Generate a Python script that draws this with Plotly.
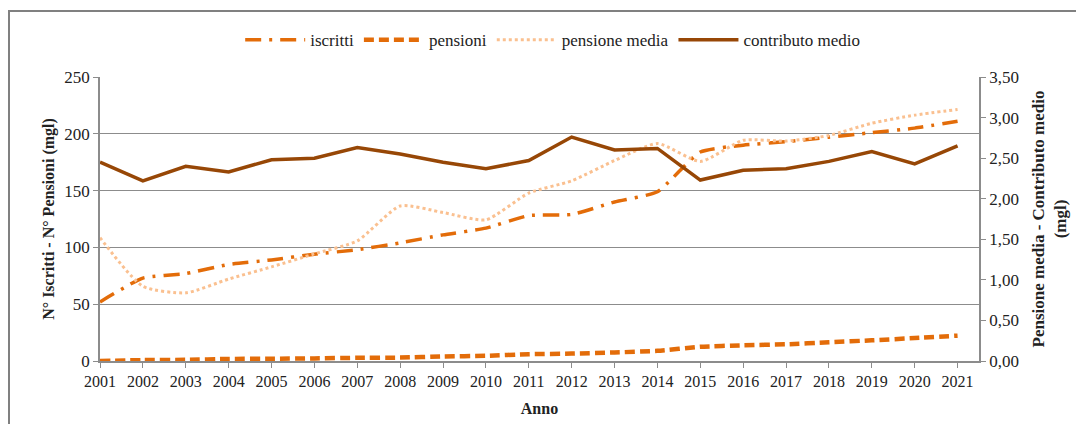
import plotly.graph_objects as go

anni = [str(y) for y in range(2001, 2022)]
iscritti = [52, 73, 77, 85, 89, 94, 98, 104, 111, 117, 128, 129, 140, 149, 184, 190, 193, 197, 201, 205, 211]
pensioni = [0, 0.8, 1, 1.8, 2, 2.3, 2.8, 3, 4, 4.6, 6, 6.5, 7.5, 9, 12.5, 13.8, 14.7, 16.5, 18.2, 20.2, 22.3]
pensione_media = [1.52, 0.92, 0.84, 1.01, 1.16, 1.32, 1.48, 1.91, 1.83, 1.74, 2.07, 2.22, 2.47, 2.68, 2.46, 2.72, 2.71, 2.78, 2.93, 3.03, 3.10]
contributo_medio = [2.45, 2.22, 2.40, 2.33, 2.48, 2.50, 2.63, 2.55, 2.45, 2.37, 2.47, 2.76, 2.60, 2.62, 2.23, 2.35, 2.37, 2.46, 2.58, 2.43, 2.65]

left_ticks = [0, 50, 100, 150, 200, 250]
right_ticks = [0, 0.5, 1, 1.5, 2, 2.5, 3, 3.5]
right_labels = ["0,00", "0,50", "1,00", "1,50", "2,00", "2,50", "3,00", "3,50"]

x = list(range(2001, 2022))
FONT = "Liberation Serif"
GRAY = "#8c8c8c"

fig = go.Figure()
fig.add_trace(go.Scatter(x=x, y=iscritti, name="iscritti", mode="lines",
                         line=dict(color="#E36C09", width=3.5, dash="16px,8px,3px,8px", shape="spline", smoothing=0.5)))
fig.add_trace(go.Scatter(x=x, y=pensioni, name="pensioni", mode="lines",
                         line=dict(color="#E36C09", width=4.5, dash="10px,5px", shape="spline", smoothing=0.5)))
fig.add_trace(go.Scatter(x=x, y=pensione_media, name="pensione media", mode="lines", yaxis="y2",
                         line=dict(color="#FAC090", width=3, dash="dot", shape="spline", smoothing=0.6)))
fig.add_trace(go.Scatter(x=x, y=contributo_medio, name="contributo medio", mode="lines", yaxis="y2",
                         line=dict(color="#974706", width=3.5)))

fig.update_layout(
    width=1076, height=416,
    margin=dict(l=92, r=105, t=69, b=63),
    paper_bgcolor="white", plot_bgcolor="white",
    font=dict(family=FONT, size=15, color="#222222"),
    showlegend=True,
    legend=dict(orientation="h", x=0.515, xanchor="center", y=1.13, yanchor="middle",
                font=dict(family=FONT, size=17), itemwidth=60, traceorder="normal"),
    xaxis=dict(range=[2001, 2021.5], tickvals=x, ticktext=anni, showgrid=False, automargin=False,
               showline=True, linecolor=GRAY, linewidth=1.5, ticks="outside", ticklen=5,
               tickcolor=GRAY, zeroline=False,
               tickfont=dict(family=FONT, size=16),
               title=dict(text="<b>Anno</b>", font=dict(family=FONT, size=16), standoff=14)),
    yaxis=dict(range=[0, 250], tickvals=left_ticks, showgrid=True, gridcolor=GRAY, gridwidth=1.2,
               automargin=False,
               showline=True, linecolor=GRAY, linewidth=1.5, ticks="outside", ticklen=5,
               tickcolor=GRAY, zeroline=False, tickfont=dict(family=FONT, size=17),
               title=dict(text="<b>N° Iscritti - N° Pensioni (mgl)</b>", font=dict(family=FONT, size=16), standoff=6)),
    yaxis2=dict(range=[0, 3.5], tickvals=right_ticks, ticktext=right_labels, overlaying="y", side="right",
                automargin=False,
                showgrid=False, showline=True, linecolor=GRAY, linewidth=1.5, ticks="outside", ticklen=5,
                tickcolor=GRAY, zeroline=False, tickfont=dict(family=FONT, size=17),
                title=dict(text="<b>Pensione media - Contributo medio<br>(mgl)</b>", font=dict(family=FONT, size=17), standoff=14)),
)

fig.add_shape(type="rect", xref="paper", yref="paper",
              x0=-91/879, x1=1.2, y0=-0.3, y1=(353 - 3) / 284,
              line=dict(color="#808080", width=2), fillcolor="rgba(0,0,0,0)", layer="below")

fig.write_html("out.html")
